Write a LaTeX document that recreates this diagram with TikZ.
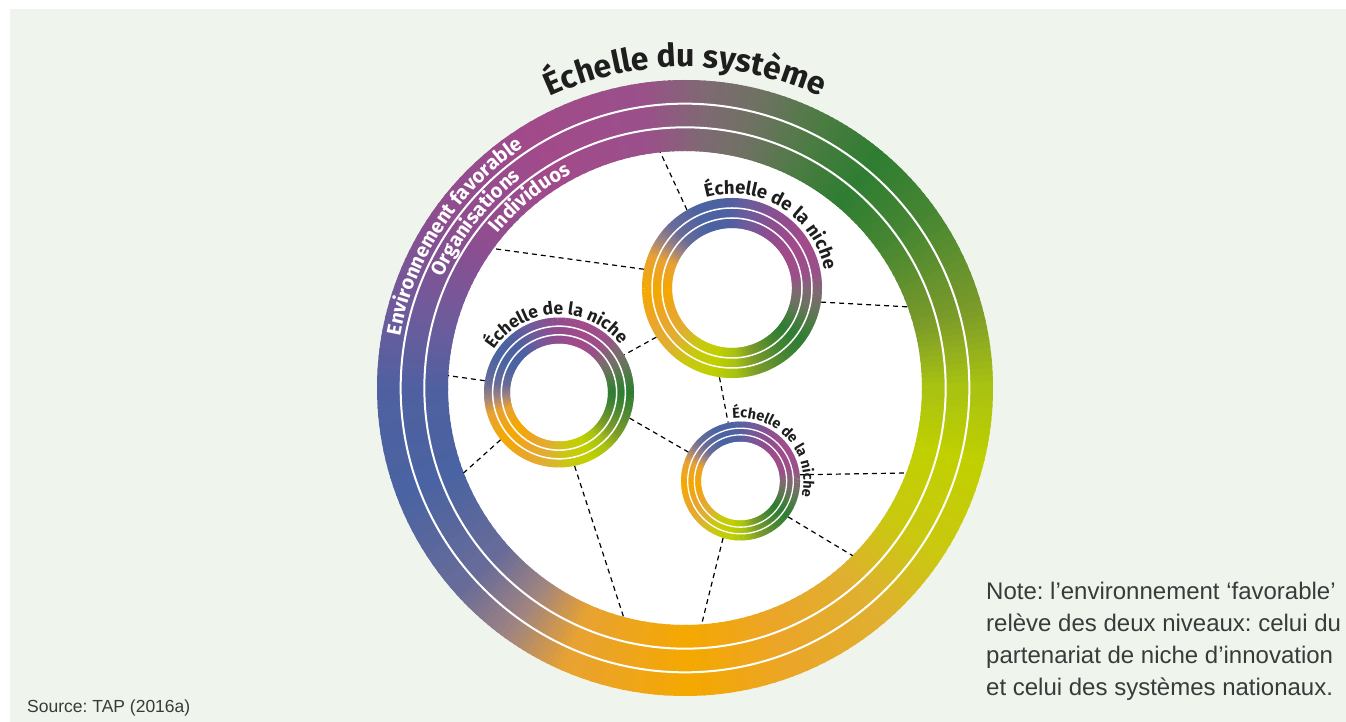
\documentclass[tikz,border=0pt]{standalone}
\usepackage{fontspec}
\setmainfont{Liberation Sans}
\setsansfont{Fira Sans}
\usepackage{tikz}
\usetikzlibrary{positioning,decorations.text}
\frenchspacing

\definecolor{bgcol}{HTML}{EFF5EC}
\definecolor{labcol}{HTML}{1E1E1E}
\definecolor{notecol}{HTML}{3A3A3A}
\definecolor{ga}{HTML}{A8C212}
\definecolor{gb}{HTML}{7A9A2A}
\definecolor{gc}{HTML}{468632}
\definecolor{gd}{HTML}{2E7D32}
\definecolor{ge}{HTML}{4B7C42}
\definecolor{gf}{HTML}{6E7262}
\definecolor{gg}{HTML}{7E6A72}
\definecolor{gh}{HTML}{9A508A}
\definecolor{gi}{HTML}{A24A8A}
\definecolor{gj}{HTML}{8C4E90}
\definecolor{gk}{HTML}{6C5C9C}
\definecolor{gl}{HTML}{4F60A0}
\definecolor{gm}{HTML}{4A63A2}
\definecolor{gn}{HTML}{6A6C98}
\definecolor{go}{HTML}{A08480}
\definecolor{gp}{HTML}{E8A232}
\definecolor{gq}{HTML}{F5A800}
\definecolor{gr}{HTML}{EBA528}
\definecolor{gs}{HTML}{E0B030}
\definecolor{gt}{HTML}{CAC810}
\definecolor{gu}{HTML}{C0D000}

% ring with angular colour run: node, inner r, outer r, turn, white line width
\newcommand{\gradring}[5]{%
  \pgfmathsetmacro{\rmid}{(#2+#3)/2}%
  \pgfmathsetmacro{\rwid}{#3-#2}%
  \foreach \sa/\sb/\ca/\cb in {0/15/ga/gb,15/35/gb/gc,35/50/gc/gd,50/62/gd/ge,62/75/ge/gf,75/85/gf/gg,85/98/gg/gh,98/120/gh/gi,120/145/gi/gj,145/165/gj/gk,165/180/gk/gl,180/200/gl/gm,200/222/gm/gn,222/234/gn/go,234/246/go/gp,246/270/gp/gq,270/290/gq/gr,290/310/gr/gs,310/326/gs/gt,326/345/gt/gu,345/360/gu/ga}{%
    \foreach \k in {0,...,11}{%
      \pgfmathtruncatemacro{\pct}{100-\k*100/12}%
      \pgfmathsetmacro{\angA}{#4+\sa+(\sb-\sa)*\k/12}%
      \pgfmathsetmacro{\angB}{#4+\sa+(\sb-\sa)*(\k+1)/12+0.6}%
      \draw[line width=\rwid, color=\ca!\pct!\cb] (#1.center) ++(\angA:\rmid) arc[start angle=\angA, end angle=\angB, radius=\rmid];
    }%
  }%
  \draw[white, line width=#5] (#1.center) circle[radius=#2+\rwid/3];
  \draw[white, line width=#5] (#1.center) circle[radius=#2+2*\rwid/3];
}

\begin{document}
\begin{tikzpicture}[x=1pt, y=1pt, ring node/.style={circle,inner sep=0pt,minimum size=#1},
  arc text/.style={decorate,decoration={text along path,text align=center,text={#1}}}]
\useasboundingbox (0,0) rectangle (1346,722);
\fill[bgcol] (10,0) rectangle (1346,713);
\begin{scope}[every node/.style={ring node=10}]
\node[ring node=474, fill=white] (sys) at (685,334) {};
\node[ring node=180] (n1) at (732,434) {};
\node[ring node=150] (n2) at (559,329.5) {};
\node[ring node=119] (n3) at (740.5,241) {};
\end{scope}
\gradring{sys}{237}{308}{0}{2}
\gradring{n1}{60}{90}{-88}{1.5}
\gradring{n2}{49}{75}{-50}{1.5}
\gradring{n3}{39.5}{59.5}{-86}{1.3}
\begin{scope}[every edge/.style={draw=black,line width=1.2pt,dash pattern=on 5pt off 4pt}]
\draw (n1.120) edge (sys.96);
\draw (n1.168) edge (sys.144.5);
\draw (n1.351) edge (sys.20.2);
\draw (n1.213.7) edge (n2.30.7);
\draw (n1.262.4) edge (n3.102);
\draw (n2.171) edge (sys.177.6);
\draw (n2.219.7) edge (sys.201.9);
\draw (n2.282) edge (sys.255.4);
\draw (n2.340.4) edge (n3.151);
\draw (n3.6) edge (sys.339.4);
\draw (n3.323.5) edge (sys.315.5);
\draw (n3.253) edge (sys.274.3);
\end{scope}
% labels on the rings
\path[arc text={|\sffamily\bfseries\fontsize{32}{32}\selectfont\color{labcol}|Échelle du système}] (sys.center) ++(135:321) arc[start angle=135, end angle=45, radius=321];
\path[arc text={|\sffamily\bfseries\fontsize{20}{20}\selectfont\color{white}|Environnement favorable}] (sys.center) ++(186.75:289.5) arc[start angle=186.75, end angle=106.75, radius=289.5];
\path[arc text={|\sffamily\bfseries\fontsize{20}{20}\selectfont\color{white}|Organisations}] (sys.center) ++(181.75:266) arc[start angle=181.75, end angle=101.75, radius=266];
\path[arc text={|\sffamily\bfseries\fontsize{20}{20}\selectfont\color{white}|Individuos}] (sys.center) ++(169.25:242.5) arc[start angle=169.25, end angle=89.25, radius=242.5];
\path[arc text={|\sffamily\bfseries\fontsize{18.5}{18.5}\selectfont\color{labcol}|Échelle de la niche}] (n1.center) ++(128.5:94) arc[start angle=128.5, end angle=-11.5, radius=94];
\path[arc text={|\sffamily\bfseries\fontsize{17.5}{17.5}\selectfont\color{labcol}|Échelle de la niche}] (n2.center) ++(162.5:78) arc[start angle=162.5, end angle=22.5, radius=78];
\path[arc text={|\sffamily\bfseries\fontsize{14.5}{14.5}\selectfont\color{labcol}|Échelle de la niche}] (n3.center) ++(111.5:63) arc[start angle=111.5, end angle=-28.5, radius=63];
\node[anchor=north west, align=left, inner sep=0pt, text=notecol, font=\fontsize{24}{32}\selectfont] (note) at (986,140) {Note: l’environnement ‘favorable’\\relève des deux niveaux: celui du\\partenariat de niche d’innovation\\et celui des systèmes nationaux.};
\node[anchor=base west, inner sep=0pt, text=notecol, font=\fontsize{17.5}{17.5}\selectfont] (src) at (27,9) {Source: TAP (2016a)};
\end{tikzpicture}
\end{document}
